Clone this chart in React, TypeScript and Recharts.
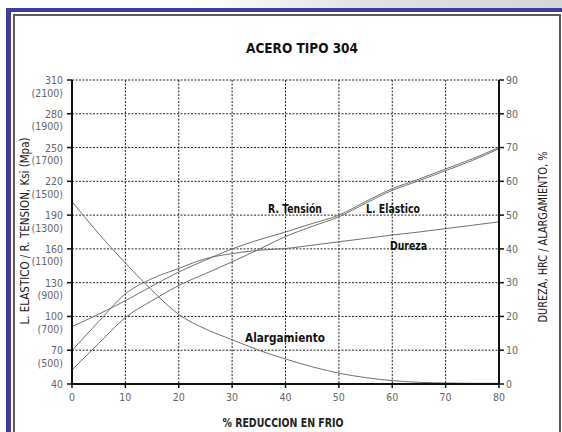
import { CartesianGrid, Line, LineChart, XAxis, YAxis } from "recharts";

// % reducción en frío
const reduccion = [0, 5, 10, 15, 20, 25, 30, 35, 40, 45, 50, 55, 60, 65, 70, 75, 80];
// ksi (eje izquierdo)
const resistenciaTension = [91, 102, 114, 127, 139.5, 150, 160, 168, 175, 182.5, 190, 202, 213.5, 222, 231, 240, 250];
const limiteElastico = [52.5, 76, 99, 114, 127.5, 138, 148.5, 159.5, 171, 180, 188.5, 200.5, 212, 220.5, 229.5, 238.5, 249];
// HRC / % (eje derecho)
const dureza = [9.9, 18.5, 26.7, 31.2, 34.2, 37.1, 38.6, 39.6, 40.1, 41.1, 42.1, 43.1, 44.1, 45, 46, 47, 48];
const alargamiento = [54, 44.5, 35.8, 27.7, 20.6, 16.3, 13.1, 10, 7.4, 5.1, 3.2, 1.9, 1, 0.5, 0.3, 0.2, 0.2];

const ksiTicks = [40, 70, 100, 130, 160, 190, 220, 250, 280, 310];
const mpaLabels = ["", "(500)", "(700)", "(900)", "(1100)", "(1300)", "(1500)", "(1700)", "(1900)", "(2100)"];
const rightTicks = [0, 10, 20, 30, 40, 50, 60, 70, 80, 90];
const xTicks = [0, 10, 20, 30, 40, 50, 60, 70, 80];

const data = reduccion.map((x, i) => ({
  x,
  tension: resistenciaTension[i],
  elastico: limiteElastico[i],
  dureza: dureza[i],
  alarg: alargamiento[i],
}));

const font = "'DejaVu Sans Condensed', 'DejaVu Sans', sans-serif";
const tickGray = "#666";
const curveGray = "#707070";

const KsiTick = ({ x, y, payload }: any) => {
  const i = ksiTicks.indexOf(payload.value);
  return (
    <g>
      <text x={x} y={y} dy={4} textAnchor="end" fill={tickGray} fontSize={10.5} fontFamily={font}>
        {payload.value}
      </text>
      {mpaLabels[i] ? (
        <text x={x} y={y} dy={16.5} textAnchor="end" fill={tickGray} fontSize={10.5} fontFamily={font}>
          {mpaLabels[i]}
        </text>
      ) : null}
    </g>
  );
};

export default function App() {
  return (
    <div style={{ position: "absolute", left: 0, top: 0, width: 562, height: 432, overflow: "hidden", background: "#fff" }}>
      <div
        style={{
          position: "absolute",
          left: 0,
          top: 0,
          width: 562,
          height: 8,
          background: "linear-gradient(to right, #fff 0%, #fff 35%, #e2e2e2 65%, #d6d6d6 100%)",
        }}
      />
      <div
        style={{
          position: "absolute",
          left: 6,
          top: 8,
          width: 620,
          height: 500,
          borderLeft: "5px solid #3d3d9f",
          borderTop: "4px solid #3d3d9f",
        }}
      />
      <div
        style={{
          position: "absolute",
          left: 13,
          top: 14,
          width: 544,
          height: 500,
          border: "2px solid #5a5a5a",
        }}
      />
      <div style={{ position: "absolute", left: 0, top: 0 }}>
        <LineChart width={562} height={432} data={data} margin={{ top: 80, right: 23, bottom: 18, left: 12 }}>
          <CartesianGrid yAxisId="l" stroke="#222" strokeDasharray="2 1.5" strokeWidth={1} />
          <XAxis
            dataKey="x"
            type="number"
            domain={[0, 80]}
            ticks={xTicks}
            height={30}
            tickSize={4}
            tickMargin={6}
            axisLine={{ stroke: "#111", strokeWidth: 2 }}
            tickLine={{ stroke: "#111", strokeWidth: 1.5 }}
            tick={{ fill: tickGray, fontSize: 10.5, fontFamily: font }}
          />
          <YAxis
            yAxisId="l"
            orientation="left"
            domain={[40, 310]}
            ticks={ksiTicks}
            width={60}
            tickSize={5}
            tickMargin={4}
            interval={0}
            axisLine={{ stroke: "#111", strokeWidth: 2 }}
            tickLine={{ stroke: "#111", strokeWidth: 1.5 }}
            tick={<KsiTick />}
          />
          <YAxis
            yAxisId="r"
            orientation="right"
            domain={[0, 90]}
            ticks={rightTicks}
            width={40}
            tickSize={5}
            tickMargin={2}
            interval={0}
            axisLine={{ stroke: "#111", strokeWidth: 2 }}
            tickLine={{ stroke: "#111", strokeWidth: 1.5 }}
            tick={{ fill: tickGray, fontSize: 10.5, fontFamily: font }}
          />
          <Line yAxisId="l" type="monotone" dataKey="tension" stroke={curveGray} strokeWidth={1} dot={false} isAnimationActive={false} />
          <Line yAxisId="l" type="monotone" dataKey="elastico" stroke={curveGray} strokeWidth={1} dot={false} isAnimationActive={false} />
          <Line yAxisId="r" type="monotone" dataKey="dureza" stroke={curveGray} strokeWidth={1} dot={false} isAnimationActive={false} />
          <Line yAxisId="r" type="monotone" dataKey="alarg" stroke={curveGray} strokeWidth={1} dot={false} isAnimationActive={false} />
        </LineChart>
      </div>
      <svg width={562} height={432} style={{ position: "absolute", left: 0, top: 0, pointerEvents: "none" }}>
        <g fontFamily={font} fill="#111">
          <text x={302} y={53} textAnchor="middle" fontSize={14} fontWeight="bold" textLength={112} lengthAdjust="spacingAndGlyphs">
            ACERO TIPO 304
          </text>
          <text x={283} y={427} textAnchor="middle" fontSize={12} fontWeight="bold" fill="#222" textLength={121} lengthAdjust="spacingAndGlyphs">
            % REDUCCION EN FRIO
          </text>
          <text
            transform="translate(29,231) rotate(-90)"
            textAnchor="middle"
            fontSize={12}
            fill="#222"
            textLength={187}
            lengthAdjust="spacingAndGlyphs"
          >
            L. ELASTICO / R. TENSION, Ksi (Mpa)
          </text>
          <text
            transform="translate(547,237) rotate(-90)"
            textAnchor="middle"
            fontSize={12}
            fill="#222"
            textLength={171}
            lengthAdjust="spacingAndGlyphs"
          >
            DUREZA, HRC / ALARGAMIENTO, %
          </text>
          <text x={295} y={213} textAnchor="middle" fontSize={12} fontWeight="bold" textLength={54} lengthAdjust="spacingAndGlyphs">
            R. Tensión
          </text>
          <text x={393} y={213} textAnchor="middle" fontSize={12} fontWeight="bold" textLength={54} lengthAdjust="spacingAndGlyphs">
            L. Elástico
          </text>
          <text x={408.5} y={250} textAnchor="middle" fontSize={12} fontWeight="bold" textLength={37} lengthAdjust="spacingAndGlyphs">
            Dureza
          </text>
          <text x={285} y={342} textAnchor="middle" fontSize={13} fontWeight="bold" textLength={80} lengthAdjust="spacingAndGlyphs">
            Alargamiento
          </text>
        </g>
      </svg>
    </div>
  );
}
